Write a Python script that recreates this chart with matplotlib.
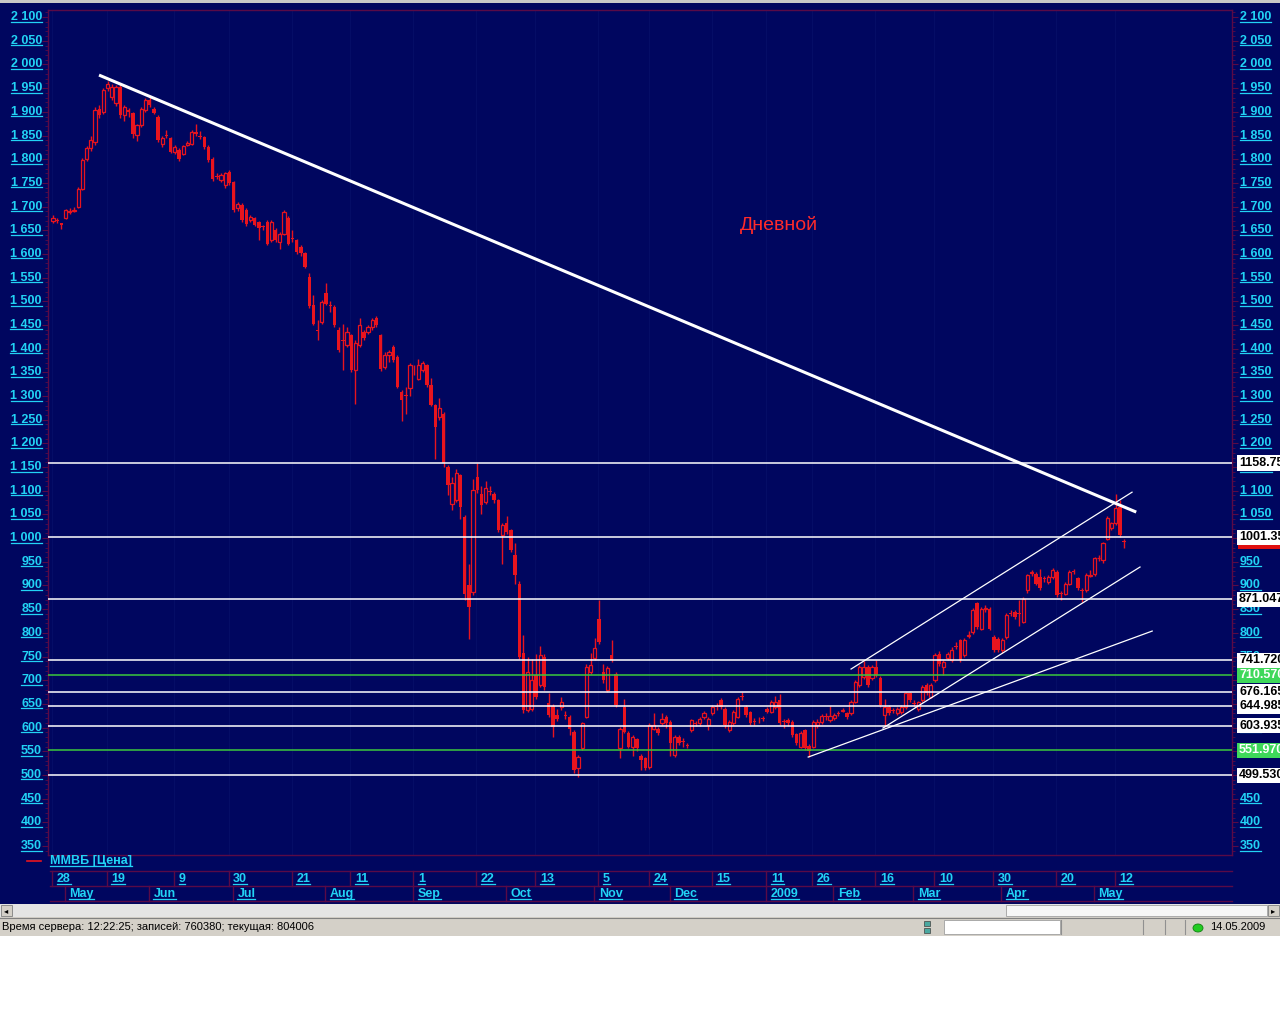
import numpy as np
import matplotlib.pyplot as plt
from matplotlib.patches import Rectangle, Circle
from matplotlib.lines import Line2D
from matplotlib.transforms import blended_transform_factory

W, H = 1280, 1024
NAVY = '#00065f'
RED = '#e8141e'
CYAN = '#22d3f5'
FRAME = '#5a0a46'
FONT = 'Liberation Sans'

# MICEX index daily candles, 28 Apr 2008 .. 14 May 2009
opens = [
    1670, 1672, 1665, 1675, 1688, 1690, 1700, 1738, 1801, 1823,
    1837, 1907, 1900, 1950, 1932, 1918, 1953, 1893, 1903, 1897,
    1851, 1872, 1904, 1926, 1907, 1890, 1833, 1852, 1844, 1816,
    1820, 1812, 1831, 1833, 1857, 1849, 1847, 1826, 1801, 1765,
    1756, 1745, 1773, 1752, 1696, 1703, 1692, 1671, 1675, 1668,
    1658, 1668, 1629, 1650, 1626, 1643, 1675, 1634, 1629, 1615,
    1601, 1552, 1492, 1440, 1457, 1517, 1493, 1488, 1439, 1419,
    1408, 1429, 1355, 1408, 1436, 1436, 1446, 1464, 1429, 1362,
    1386, 1404, 1383, 1309, 1303, 1316, 1356, 1337, 1355, 1365,
    1323, 1281, 1256, 1263, 1151, 1073, 1080, 1133, 1045, 901,
    887, 1130, 1094, 1077, 1099, 1094, 1080, 1007, 1031, 1017,
    964, 904, 757, 637, 640, 711, 690, 750, 651, 645,
    626, 644, 627, 623, 591, 514, 556, 623, 718, 746,
    830, 718, 679, 753, 714, 556, 644, 588, 560, 575,
    540, 535, 517, 598, 598, 609, 623, 612, 542, 581,
    572, 564, 595, 610, 609, 622, 605, 630, 645, 658,
    640, 595, 609, 623, 666, 644, 633, 613, 617, 620,
    640, 633, 644, 658, 613, 616, 612, 586, 560, 595,
    561, 560, 605, 612, 624, 616, 620, 631, 636, 630,
    630, 655, 690, 707, 728, 704, 728, 704, 626, 644,
    637, 630, 633, 644, 672, 652, 640, 658, 690, 665,
    700, 756, 728, 746, 742, 772, 785, 753, 793, 802,
    862, 809, 850, 851, 792, 788, 764, 792, 842, 844,
    842, 823, 890, 926, 925, 918, 916, 908, 918, 929,
    884, 883, 904, 930, 915, 891, 890, 921, 925, 957,
    953, 999, 1021, 1031, 1066, 993,
]
closes = [
    1676, 1669, 1662, 1692, 1690, 1693, 1738, 1798, 1823, 1840,
    1904, 1893, 1946, 1958, 1953, 1953, 1893, 1910, 1899, 1854,
    1872, 1907, 1925, 1914, 1897, 1840, 1844, 1849, 1816, 1826,
    1801, 1828, 1834, 1858, 1853, 1846, 1826, 1798, 1759, 1762,
    1766, 1770, 1749, 1692, 1706, 1671, 1664, 1678, 1661, 1654,
    1656, 1622, 1668, 1629, 1643, 1689, 1622, 1632, 1604, 1601,
    1573, 1490, 1453, 1438, 1499, 1495, 1491, 1450, 1397, 1417,
    1436, 1355, 1411, 1450, 1422, 1446, 1460, 1450, 1358, 1386,
    1393, 1376, 1320, 1291, 1301, 1365, 1354, 1365, 1369, 1323,
    1281, 1235, 1274, 1158, 1112, 1116, 1137, 1066, 883, 855,
    1101, 1101, 1070, 1105, 1097, 1080, 1017, 1027, 1013, 975,
    922, 750, 637, 718, 700, 665, 753, 686, 626, 602,
    619, 654, 625, 598, 510, 538, 609, 728, 732, 767,
    781, 700, 725, 742, 648, 598, 591, 560, 581, 556,
    531, 514, 605, 605, 588, 619, 609, 567, 581, 567,
    569, 562, 616, 608, 619, 630, 619, 644, 643, 644,
    605, 612, 633, 661, 664, 626, 609, 611, 615, 618,
    633, 654, 654, 609, 611, 609, 584, 567, 588, 556,
    551, 612, 612, 624, 622, 624, 626, 629, 638, 623,
    655, 697, 728, 728, 690, 728, 711, 648, 644, 630,
    635, 640, 644, 672, 658, 650, 654, 686, 672, 690,
    753, 735, 739, 756, 764, 770, 742, 785, 796, 848,
    813, 851, 852, 809, 764, 764, 785, 837, 840, 834,
    840, 872, 922, 928, 904, 894, 914, 918, 932, 880,
    882, 904, 929, 928, 894, 889, 922, 923, 957, 959,
    989, 1042, 1031, 1063, 1006, 991,
]
highs = [
    1682, 1675, 1666, 1695, 1696, 1700, 1742, 1802, 1828, 1848,
    1910, 1915, 1950, 1965, 1958, 1956, 1958, 1915, 1908, 1900,
    1875, 1910, 1930, 1932, 1910, 1893, 1848, 1862, 1846, 1829,
    1823, 1831, 1838, 1861, 1875, 1860, 1850, 1829, 1804, 1770,
    1770, 1772, 1778, 1755, 1710, 1708, 1696, 1682, 1679, 1670,
    1662, 1672, 1672, 1655, 1646, 1692, 1680, 1650, 1632, 1618,
    1604, 1560, 1513, 1460, 1502, 1538, 1500, 1492, 1445, 1453,
    1445, 1432, 1418, 1464, 1440, 1450, 1464, 1470, 1432, 1392,
    1398, 1408, 1386, 1313, 1320, 1369, 1365, 1378, 1374, 1368,
    1338, 1284, 1295, 1266, 1155, 1130, 1145, 1136, 1048, 945,
    1125, 1158, 1110, 1120, 1110, 1098, 1083, 1031, 1047, 1020,
    990, 910, 795, 750, 745, 755, 773, 755, 672, 650,
    640, 665, 634, 627, 594, 542, 612, 735, 758, 790,
    869, 735, 730, 785, 718, 602, 661, 592, 585, 578,
    544, 538, 609, 630, 602, 630, 627, 615, 585, 584,
    578, 568, 619, 614, 622, 634, 623, 648, 651, 662,
    643, 616, 637, 665, 675, 648, 636, 620, 622, 624,
    643, 658, 667, 670, 618, 620, 615, 589, 592, 598,
    565, 615, 618, 628, 630, 646, 630, 634, 642, 633,
    658, 700, 732, 740, 732, 732, 742, 708, 660, 648,
    642, 643, 648, 676, 676, 658, 657, 690, 694, 694,
    757, 762, 742, 760, 770, 780, 788, 789, 803, 852,
    866, 855, 858, 855, 795, 791, 789, 841, 848, 848,
    870, 875, 925, 932, 928, 935, 920, 922, 936, 932,
    888, 908, 933, 934, 918, 895, 926, 932, 960, 965,
    992, 1046, 1035, 1094, 1080, 999,
]
lows = [
    1665, 1666, 1652, 1673, 1684, 1688, 1698, 1736, 1796, 1818,
    1830, 1888, 1895, 1945, 1925, 1912, 1888, 1880, 1890, 1845,
    1838, 1868, 1900, 1910, 1895, 1836, 1825, 1845, 1813, 1812,
    1796, 1808, 1828, 1830, 1850, 1842, 1822, 1795, 1755, 1758,
    1752, 1740, 1745, 1688, 1690, 1668, 1660, 1668, 1658, 1630,
    1650, 1618, 1625, 1625, 1610, 1640, 1618, 1625, 1600, 1596,
    1570, 1486, 1450, 1418, 1452, 1492, 1478, 1446, 1393, 1355,
    1404, 1350, 1284, 1404, 1418, 1430, 1440, 1446, 1352, 1358,
    1372, 1372, 1316, 1248, 1262, 1300, 1345, 1333, 1350, 1320,
    1278, 1168, 1250, 1150, 1090, 1060, 1076, 1040, 870, 788,
    880, 1096, 1050, 1072, 1090, 1075, 1012, 946, 1009, 970,
    903, 745, 630, 632, 635, 660, 685, 680, 622, 580,
    614, 638, 618, 585, 505, 496, 553, 620, 714, 742,
    776, 695, 675, 738, 644, 535, 588, 556, 540, 551,
    510, 510, 513, 594, 584, 605, 600, 541, 538, 563,
    560, 556, 590, 604, 603, 618, 595, 626, 638, 640,
    600, 590, 605, 620, 659, 622, 605, 605, 610, 614,
    630, 630, 640, 605, 600, 604, 580, 563, 556, 552,
    538, 556, 600, 608, 617, 612, 616, 625, 632, 619,
    626, 652, 686, 703, 686, 700, 707, 644, 602, 626,
    630, 626, 629, 640, 654, 645, 636, 654, 668, 662,
    696, 731, 710, 742, 738, 765, 738, 749, 789, 798,
    809, 805, 845, 805, 760, 760, 758, 788, 835, 830,
    815, 820, 885, 920, 900, 890, 908, 904, 914, 876,
    870, 880, 900, 924, 890, 866, 886, 917, 920, 952,
    948, 995, 1017, 1027, 1002, 980,
]

day_ticks = [0, 13, 29, 42, 57, 71, 86, 101, 115, 130, 142, 157, 170, 181, 196, 210, 224, 239, 253]
day_labels = ['28', '19', '9', '30', '21', '11', '1', '22', '13', '5', '24', '15', '11', '26',
              '16', '10', '30', '20', '12']
month_ticks = [3, 23, 43, 65, 86, 108, 129, 147, 170, 186, 205, 226, 248]
month_labels = ['May', 'Jun', 'Jul', 'Aug', 'Sep', 'Oct', 'Nov', 'Dec', '2009', 'Feb', 'Mar', 'Apr', 'May']

y_ticks = list(range(350, 2101, 50))

white_levels = [1158.75, 1001.35, 871.047, 741.72, 676.165, 644.985, 603.935, 499.53]
green_levels = [710.57, 551.97]
last_price = 991.96

# trend lines: (candle index pairs, value pairs)
main_trend = ([10.95, 257.9], [1977.6, 1055.0])
channel_upper = ([190.0, 256.9], [723.6, 1097.0])
channel_lower = ([197.6, 258.8], [599.0, 939.0])
support_line = ([179.8, 261.7], [537.8, 803.8])

fig = plt.figure(figsize=(W / 100, H / 100), dpi=100, facecolor='white')


def px_rect(x0, y0, x1, y1, **kw):
    r = Rectangle((x0 / W, 1 - y1 / H), (x1 - x0) / W, (y1 - y0) / H,
                  transform=fig.transFigure, **kw)
    fig.add_artist(r)
    return r


def px_line(x0, y0, x1, y1, **kw):
    ln = Line2D([x0 / W, x1 / W], [1 - y0 / H, 1 - y1 / H], transform=fig.transFigure, **kw)
    fig.add_artist(ln)
    return ln


# window background
px_rect(0, 0, W, 904, facecolor=NAVY, edgecolor='none', zorder=-5)
px_rect(0, 0, W, 3, facecolor='#c8c8c8', edgecolor='none', zorder=-4)

ax = fig.add_axes([48 / W, 1 - 855 / H, (1232 - 48) / W, (855 - 10) / H])
ax.set_facecolor(NAVY)
ax.set_xlim(-1.2, 280.7)
ax.set_ylim(331, 2115)
for s in ax.spines.values():
    s.set_color(FRAME)
    s.set_linewidth(1)
ax.set_xticks([])
ax.set_yticks(y_ticks)
ax.set_yticks(range(340, 2111, 10), minor=True)
ax.tick_params(axis='y', which='both', left=True, right=True, labelleft=False,
               color=FRAME, direction='out')
ax.tick_params(axis='y', which='major', length=4)
ax.tick_params(axis='y', which='minor', length=2)

for t in day_ticks:
    ax.axvline(t - 0.2, color='#050d66', lw=0.8, zorder=0)

# candles
o = np.array(opens, float)
c = np.array(closes, float)
hi = np.array(highs, float)
lo = np.array(lows, float)
idx = np.arange(len(c))
up = c >= o
ax.vlines(idx, lo, hi, color=RED, lw=1, zorder=2)
body_dn = np.maximum(o - c, 2)
ax.bar(idx[~up], body_dn[~up], bottom=c[~up], width=0.8, color=RED, linewidth=0, zorder=3)
body_up = np.maximum(c - o, 2)
ax.bar(idx[up], body_up[up], bottom=o[up], width=0.75, facecolor=NAVY, edgecolor=RED,
       linewidth=0.9, zorder=3)

# levels and trend lines
for v in white_levels:
    ax.axhline(v, color='white', lw=1.1, zorder=4)
for v in green_levels:
    ax.axhline(v, color='#3cc83c', lw=1.1, zorder=4)
ax.plot(*main_trend, color='white', lw=2.2, solid_capstyle='butt', zorder=5)
for xs, ys in (channel_upper, channel_lower, support_line):
    ax.plot(xs, ys, color='white', lw=0.9, zorder=5)

fig.text(779 / W, 1 - 225 / H, 'Дневной', color='#ff2a2a', fontsize=14, family=FONT,
         ha='center', va='center')

lab_kw = dict(color=CYAN, fontsize=9, fontweight='bold', family=FONT)
underlined = []

# price scales
trans_y = blended_transform_factory(fig.transFigure, ax.transData)
for v in y_ticks:
    s = f'{v:,}'.replace(',', ' ')
    underlined.append(fig.text(42 / W, v, s, transform=trans_y, ha='right', va='center', **lab_kw))
    underlined.append(fig.text(1240 / W, v, s, transform=trans_y, ha='left', va='center', **lab_kw))

# level labels on the right (cut by the window edge, as in the terminal)
fig.text(1239 / W, last_price, f'{last_price:.3f}', transform=trans_y, ha='left', va='center',
         color='#7a0000', fontsize=9, fontweight='bold', family=FONT, zorder=6,
         bbox=dict(facecolor='#e01010', edgecolor='none', pad=1.0))
for v in white_levels:
    fig.text(1239 / W, v, f'{v:.3f}', transform=trans_y, ha='left', va='center', color='black',
             fontsize=9, fontweight='bold', family=FONT, zorder=7,
             bbox=dict(facecolor='white', edgecolor='none', pad=1.2))
for v in green_levels:
    fig.text(1239 / W, v, f'{v:.3f}', transform=trans_y, ha='left', va='center', color='white',
             fontsize=9, fontweight='bold', family=FONT, zorder=7,
             bbox=dict(facecolor='#3ed85a', edgecolor='none', pad=1.2))

# legend row
px_line(27, 861, 41, 861, color=RED, lw=1.2)
underlined.append(fig.text(50 / W, 1 - 861 / H, 'ММВБ [Цена]', ha='left', va='center', **lab_kw))

# date scale
trans_x = blended_transform_factory(ax.transData, fig.transFigure)
for yy in (871, 886, 901):
    px_line(50, yy, 1232, yy, color=FRAME, lw=1)
for t, s in zip(day_ticks, day_labels):
    ax.add_line(Line2D([t - 0.2, t - 0.2], [1 - 871 / H, 1 - 886 / H], transform=trans_x,
                       color=FRAME, lw=1, clip_on=False))
    underlined.append(fig.text(t + 0.9, 1 - 879 / H, s, transform=trans_x, ha='left',
                               va='center', **lab_kw))
for t, s in zip(month_ticks, month_labels):
    ax.add_line(Line2D([t - 0.2, t - 0.2], [1 - 886 / H, 1 - 901 / H], transform=trans_x,
                       color=FRAME, lw=1, clip_on=False))
    underlined.append(fig.text(t + 0.9, 1 - 894 / H, s, transform=trans_x, ha='left',
                               va='center', **lab_kw))

# scroll bar and status bar
px_rect(0, 904, W, 917, facecolor='#e4e4e4', edgecolor='none', zorder=-4)
px_rect(1006, 905, 1267, 916, facecolor='#f6f6f6', edgecolor='#a0a0a0', lw=0.6, zorder=-3)
px_rect(1, 905, 12, 916, facecolor='#d4d0c8', edgecolor='#808080', lw=0.6, zorder=-3)
px_rect(1268, 905, 1279, 916, facecolor='#d4d0c8', edgecolor='#808080', lw=0.6, zorder=-3)
fig.text(6.5 / W, 1 - 910.5 / H, '◂', fontsize=6, ha='center', va='center', color='black',
         family='DejaVu Sans')
fig.text(1273.5 / W, 1 - 910.5 / H, '▸', fontsize=6, ha='center', va='center', color='black',
         family='DejaVu Sans')
px_rect(0, 917, W, 936, facecolor='#d4d0c8', edgecolor='none', zorder=-4)
px_line(0, 917.5, W, 917.5, color='#808080', lw=0.8)
fig.text(2 / W, 1 - 927.5 / H, 'Время сервера: 12:22:25; записей: 760380; текущая: 804006',
         fontsize=8, ha='left', va='center', color='black', family=FONT)
px_rect(944, 920, 1060, 934, facecolor='white', edgecolor='#a0a0a0', lw=0.6)
px_rect(924, 921, 930, 926, facecolor='#4aa8a0', edgecolor='#404040', lw=0.5)
px_rect(924, 928, 930, 933, facecolor='#4aa8a0', edgecolor='#404040', lw=0.5)
for xx in (1061, 1143, 1165, 1185):
    px_line(xx, 920, xx, 934, color='#909090', lw=0.8)
fig.add_artist(Circle((1198 / W, 1 - 928 / H), 5 / W, transform=fig.transFigure,
                      facecolor='#22cc22', edgecolor='#108010', lw=0.6))
fig.text(1210 / W, 1 - 927.5 / H, '14.05.2009', fontsize=8, ha='left', va='center',
         color='black', family=FONT)

# underline the cyan captions, like the original terminal does
fig.canvas.draw()
rend = fig.canvas.get_renderer()
for t in underlined:
    bb = t.get_window_extent(rend)
    yy = (bb.y0 + 1.5) / H
    fig.add_artist(Line2D([bb.x0 / W, bb.x1 / W], [yy, yy], transform=fig.transFigure,
                          color=CYAN, lw=0.9))

fig.savefig('out.png', dpi=100, facecolor='white')
